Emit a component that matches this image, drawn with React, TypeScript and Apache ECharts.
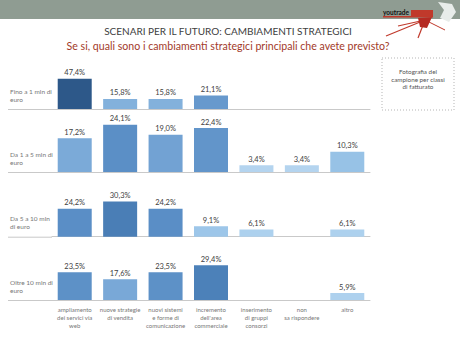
import React, { useEffect, useRef } from "react";
import * as echarts from "echarts";

const categories = [
  "ampliamento\ndei servici via\nweb",
  "nuove strategie\ndi vendita",
  "nuovi sistemi\ne forme di\ncomunicazione",
  "incremento\ndell'area\ncommerciale",
  "inserimento\ndi gruppi\nconsorzi",
  "non\nsa rispondere",
  "altro",
];

const rowLabels = [
  "Fino a 1 mln di\neuro",
  "Da 1 a 5 mln di\neuro",
  "Da 5 a 10 mln\ndi euro",
  "Oltre 10 mln di\neuro",
];

const fino1: (number | null)[] = [47.4, 15.8, 15.8, 21.1, null, null, null];
const da1a5: (number | null)[] = [17.2, 24.1, 19.0, 22.4, 3.4, 3.4, 10.3];
const da5a10: (number | null)[] = [24.2, 30.3, 24.2, 9.1, 6.1, null, 6.1];
const oltre10: (number | null)[] = [23.5, 17.6, 23.5, 29.4, null, null, 5.9];

const title = "SCENARI PER IL FUTURO: CAMBIAMENTI STRATEGICI";
const subtitle = "Se si, quali sono i cambiamenti strategici principali che avete previsto?";
const noteText = "Fotografia del\ncampione per classi\ndi fatturato";

const panelData = [fino1, da1a5, da5a10, oltre10];

// layout (pixels) for each panel
const layout = [
  { baseline: 109, max: 60, height: 38.4 },
  { baseline: 172, max: 30, height: 58.8 },
  { baseline: 236.7, max: 35, height: 40.6 },
  { baseline: 300, max: 35, height: 41.3 },
];

const FONT = "Lato, 'Open Sans', sans-serif";

const colorStops: [number, number[]][] = [
  [0, [0xbc, 0xd8, 0xf1]],
  [6, [0xae, 0xd1, 0xee]],
  [10, [0x98, 0xc3, 0xe7]],
  [16, [0x82, 0xb0, 0xdc]],
  [20, [0x6c, 0x9d, 0xd0]],
  [24, [0x5b, 0x8f, 0xc6]],
  [30, [0x4a, 0x7f, 0xb7]],
  [48, [0x2c, 0x57, 0x87]],
];

function colorFor(v: number): string {
  for (let i = 0; i < colorStops.length - 1; i++) {
    const [a, ca] = colorStops[i];
    const [b, cb] = colorStops[i + 1];
    if (v <= b) {
      const t = Math.max(0, (v - a) / (b - a));
      const c = ca.map((x, k) => Math.round(x + (cb[k] - x) * t));
      return `rgb(${c[0]},${c[1]},${c[2]})`;
    }
  }
  const c = colorStops[colorStops.length - 1][1];
  return `rgb(${c[0]},${c[1]},${c[2]})`;
}

export default function App() {
  const ref = useRef<HTMLDivElement>(null);
  useEffect(() => {
    if (!ref.current) return;
    const chart = echarts.init(ref.current, null, { renderer: "svg" });
    const H = 345;
    const grids = layout.map((l) => ({
      left: 52,
      width: 318,
      bottom: H - l.baseline,
      height: l.height,
    }));
    const xAxes = layout.map((_, i) => ({
      type: "category",
      gridIndex: i,
      data: categories,
      axisLine: { show: true, lineStyle: { color: "#c9c9c9", width: 1 } },
      axisTick: { show: false },
      axisLabel: {
        show: i === 3,
        interval: 0,
        fontSize: 6,
        lineHeight: 8,
        color: "#777",
        margin: 5,
        fontFamily: FONT,
      },
    }));
    const yAxes = layout.map((l, i) => ({
      type: "value",
      gridIndex: i,
      min: 0,
      max: l.max,
      show: false,
    }));
    const series = panelData.map((d, i) => ({
      type: "bar",
      xAxisIndex: i,
      yAxisIndex: i,
      barWidth: 34,
      data: d.map((v) =>
        v === null ? null : { value: v, itemStyle: { color: colorFor(v) } }
      ),
      label: {
        show: true,
        position: "top",
        distance: 2,
        fontSize: 7.5,
        color: "#404040",
        fontFamily: FONT,
        formatter: (p: any) =>
          p.value == null ? "" : Number(p.value).toFixed(1).replace(".", ",") + "%",
      },
    }));

    const graphic: any[] = [
      { type: "rect", shape: { x: 0, y: 0, width: 460, height: 19 }, style: { fill: "#8f9c92" }, silent: true },
      {
        type: "text",
        x: 228,
        y: 31,
        style: { text: title, fontSize: 10, fill: "#404040", fontFamily: FONT, align: "center", verticalAlign: "middle" },
      },
      {
        type: "text",
        x: 228,
        y: 46,
        style: { text: subtitle, fontSize: 10.6, fill: "#a23a2a", fontFamily: FONT, align: "center", verticalAlign: "middle" },
      },
      // logo
      { type: "polygon", shape: { points: [[438, 2], [452, 4], [456, 12], [449, 22], [440, 18], [444, 10]] }, style: { fill: "#e8ecea" } },
      { type: "line", shape: { x1: 425, y1: 20, x2: 386, y2: 36 }, style: { stroke: "#c0392b", lineWidth: 1.2 } },
      { type: "line", shape: { x1: 425, y1: 20, x2: 398, y2: 26 }, style: { stroke: "#c0392b", lineWidth: 1.2 } },
      { type: "line", shape: { x1: 425, y1: 20, x2: 418, y2: 38 }, style: { stroke: "#c0392b", lineWidth: 1.2 } },
      { type: "line", shape: { x1: 425, y1: 20, x2: 445, y2: 30 }, style: { stroke: "#c0392b", lineWidth: 1 } },
      { type: "polygon", shape: { points: [[418, 18], [432, 17], [427, 28], [420, 27]] }, style: { fill: "#b52a22" } },
      { type: "rect", shape: { x: 411, y: 10, width: 22, height: 6 }, style: { fill: "#c0392b" } },
      { type: "rect", shape: { x: 383, y: 16, width: 50, height: 1.5 }, style: { fill: "#c0392b" } },
      {
        type: "text",
        x: 383,
        y: 12.5,
        style: { text: "youtrade", fontSize: 6.5, fontWeight: "bold", fill: "#111", fontFamily: FONT, verticalAlign: "middle" },
      },
      // dotted note box
      {
        type: "rect",
        shape: { x: 382, y: 58, width: 72, height: 52 },
        style: { fill: "#fff", stroke: "#b5b5b5", lineWidth: 1, lineDash: [1, 2] },
      },
      {
        type: "text",
        x: 418,
        y: 79,
        style: { text: noteText, fontSize: 6.3, lineHeight: 7.6, fill: "#555", fontFamily: FONT, align: "center", verticalAlign: "middle" },
      },
    ];
    layout.forEach((l, i) => {
      graphic.push({
        type: "line",
        shape: { x1: 8, y1: l.baseline + 0.5, x2: 52, y2: l.baseline + 0.5 },
        style: { stroke: "#c9c9c9", lineWidth: 1 },
      });
      graphic.push({
        type: "text",
        x: 10,
        y: l.baseline - 14,
        style: { text: rowLabels[i], fontSize: 6.5, lineHeight: 8, fill: "#777", fontFamily: FONT, verticalAlign: "middle" },
      });
    });

    chart.setOption({
      animation: false,
      backgroundColor: "#ffffff",
      grid: grids,
      xAxis: xAxes,
      yAxis: yAxes,
      series,
      graphic,
    } as any);
    return () => chart.dispose();
  }, []);
  return (
    <div
      ref={ref}
      style={{ position: "fixed", left: 0, top: 0, width: 460, height: 345 }}
    />
  );
}
